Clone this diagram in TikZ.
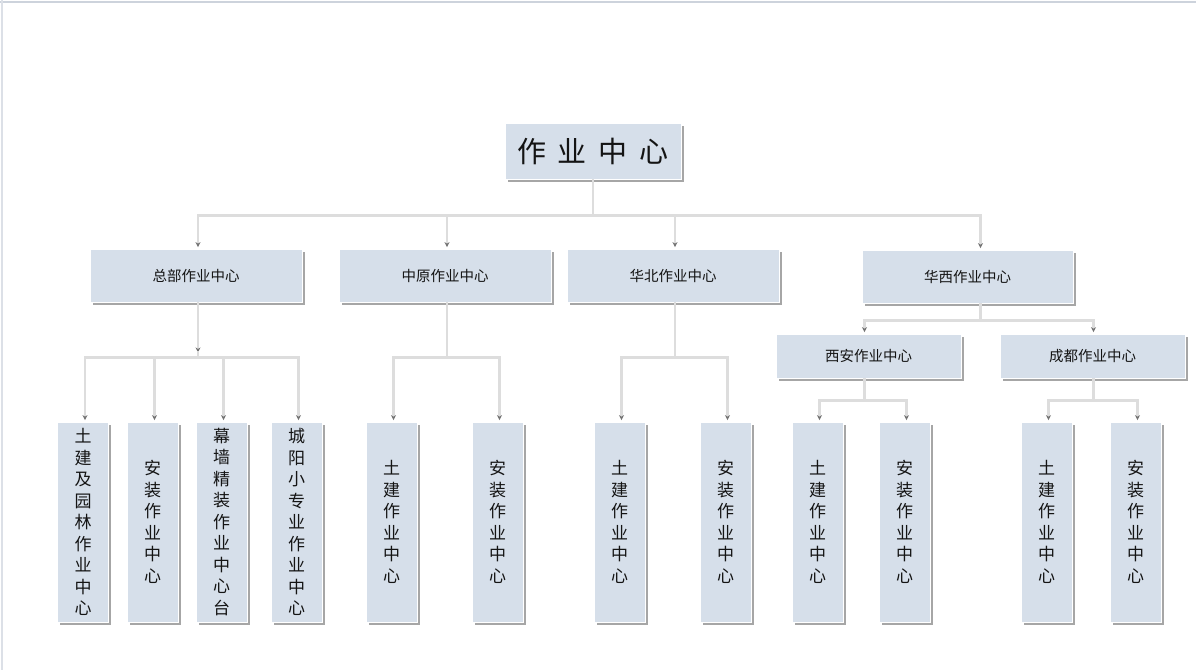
\documentclass[tikz,border=0pt]{standalone}
\usepackage{fontspec}
\setmainfont{Noto Sans CJK SC}
\usetikzlibrary{shadows,arrows.meta}
\definecolor{boxfill}{RGB}{214,223,234}
\definecolor{linegray}{RGB}{221,221,221}
\definecolor{tipgray}{RGB}{115,115,115}
\definecolor{framegray}{RGB}{205,211,220}
\definecolor{txt}{RGB}{20,20,20}
\tikzset{
 box/.style={draw=white, line width=0.8pt, fill=boxfill, inner sep=0pt, text=txt,
   drop shadow={shadow xshift=2.5pt, shadow yshift=-2.5pt, fill=black, opacity=0.35}},
 topbox/.style={box, minimum width=176pt, minimum height=56pt, font=\fontsize{29}{32}\selectfont},
 midbox/.style={box, minimum width=212pt, minimum height=53pt, font=\fontsize{14.5}{17}\selectfont},
 subbox/.style={box, minimum width=185pt, minimum height=44pt, font=\fontsize{14.5}{17}\selectfont},
 leaf/.style={box, minimum width=51pt, minimum height=200pt, align=center, font=\fontsize{17}{21.5}\selectfont},
 conn/.style={draw=linegray, line width=2.8pt, -{Stealth[length=5pt,width=5pt,color=tipgray]}},
 plain/.style={draw=linegray, line width=2.8pt},
}
\begin{document}
\begin{tikzpicture}[x=1pt,y=-1pt]
\useasboundingbox (0,0) rectangle (1196,670);
\fill[white] (0,0) rectangle (1196,670);
\draw[framegray, line width=2pt] (0,1.5) -- (1196,1.5);
\draw[framegray!70, line width=2pt] (1.5,0) -- (1.5,670);

% nodes
\node[topbox] (top) at (593,151) {作\hspace{12pt}业\hspace{12pt}中\hspace{12pt}心};

\node[midbox] (zb) at (196,275.5) {总部作业中心};
\node[midbox] (zy) at (445,275.5) {中原作业中心};
\node[midbox] (hb) at (673,275.5) {华北作业中心};
\node[midbox, minimum width=211pt] (hx) at (967.5,276.5) {华西作业中心};

\node[subbox] (xa) at (868.5,356) {西安作业中心};
\node[subbox] (cd) at (1092.5,356) {成都作业中心};

\node[leaf] (zb1) at (83,522) {土\\建\\及\\园\\林\\作\\业\\中\\心};
\node[leaf] (zb2) at (152.5,522) {安\\装\\作\\业\\中\\心};
\node[leaf] (zb3) at (221.5,522) {幕\\墙\\精\\装\\作\\业\\中\\心\\台};
\node[leaf] (zb4) at (296.5,522) {城\\阳\\小\\专\\业\\作\\业\\中\\心};
\node[leaf] (zy1) at (391.5,522) {土\\建\\作\\业\\中\\心};
\node[leaf] (zy2) at (497.5,522) {安\\装\\作\\业\\中\\心};
\node[leaf] (hb1) at (619.5,522) {土\\建\\作\\业\\中\\心};
\node[leaf] (hb2) at (725.5,522) {安\\装\\作\\业\\中\\心};
\node[leaf] (xa1) at (817.5,522) {土\\建\\作\\业\\中\\心};
\node[leaf] (xa2) at (904.5,522) {安\\装\\作\\业\\中\\心};
\node[leaf] (cd1) at (1046.5,522) {土\\建\\作\\业\\中\\心};
\node[leaf] (cd2) at (1135.5,522) {安\\装\\作\\业\\中\\心};

% connectors: top level
\foreach \c in {zb,zy,hb}
  \draw[conn] (top.south) -- ++(0,36) -| ([xshift=2pt,yshift=1.5pt]\c.north);
\draw[conn] (top.south) -- ++(0,36) -| ([xshift=13pt,yshift=1.5pt]hx.north);

% 总部
\foreach \c in {zb1,zb2,zb3,zb4}
  \draw[conn] ([xshift=2pt]zb.south) ++(0,55) -| ([xshift=2pt,yshift=1.5pt]\c.north);
\draw[conn] ([xshift=2pt]zb.south) -- ++(0,50);
\draw[plain] ([xshift=2pt]zb.south) ++(0,49) -- ++(0,6);

% 中原
\foreach \c in {zy1,zy2}
  \draw[conn] ([xshift=2pt]zy.south) -- ++(0,55) -| ([xshift=2pt,yshift=1.5pt]\c.north);
% 华北
\foreach \c in {hb1,hb2}
  \draw[conn] ([xshift=2pt]hb.south) -- ++(0,55) -| ([xshift=2pt,yshift=1.5pt]\c.north);
% 华西
\draw[conn] ([xshift=13pt]hx.south) -- ++(0,17) -| ([xshift=-4pt,yshift=1.5pt]xa.north);
\draw[conn] ([xshift=13pt]hx.south) -- ++(0,17) -| ([xshift=1pt,yshift=1.5pt]cd.north);
% 西安
\foreach \c in {xa1,xa2}
  \draw[conn] ([xshift=-4pt]xa.south) -- ++(0,22) -| ([xshift=2pt,yshift=1.5pt]\c.north);
% 成都
\foreach \c in {cd1,cd2}
  \draw[conn] ([xshift=1pt]cd.south) -- ++(0,22) -| ([xshift=2pt,yshift=1.5pt]\c.north);
\end{tikzpicture}
\end{document}
